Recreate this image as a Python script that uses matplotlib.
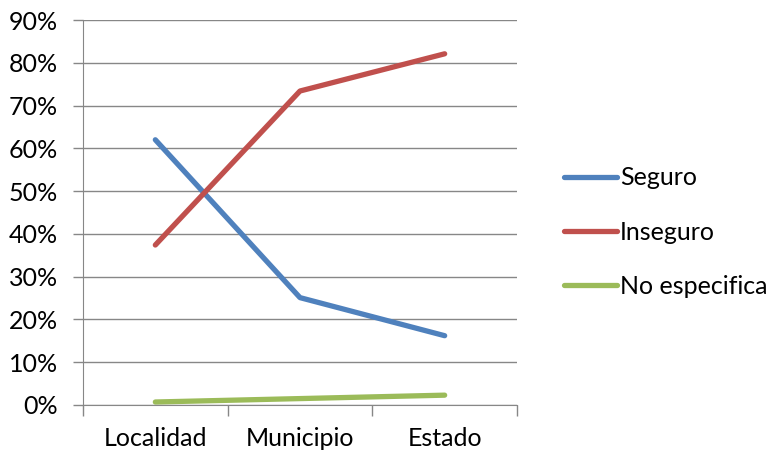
import matplotlib.pyplot as plt
import numpy as np

plt.rcParams['font.family'] = ['Lato', 'DejaVu Sans']

categorias = ["Localidad", "Municipio", "Estado"]
seguro = [62.0, 25.1, 16.2]
inseguro = [37.4, 73.4, 82.1]
no_especifica = [0.7, 1.5, 2.3]

series = [
    ("Seguro", seguro, "#4F81BD"),
    ("Inseguro", inseguro, "#C0504D"),
    ("No especifica", no_especifica, "#9BBB59"),
]

fig = plt.figure(figsize=(7.67, 4.53), dpi=100)
ax = fig.add_axes([83 / 767, 1 - 405 / 453, (517 - 83) / 767, (405 - 20) / 453])

x = np.arange(len(categorias))
for nombre, vals, color in series:
    ax.plot(x, vals, color=color, lw=3.8, solid_capstyle="round", label=nombre)

gris = "#878787"
ax.set_xlim(-0.5, len(categorias) - 0.5)
ax.set_ylim(0, 90)
ax.set_yticks(np.arange(0, 91, 10))
ax.set_yticklabels([f"{v}%" for v in range(0, 91, 10)])
ax.yaxis.grid(True, color=gris, lw=1)
ax.set_axisbelow(True)

ax.set_xticks(x)
ax.set_xticklabels(categorias)
ax.set_xticks(np.arange(-0.5, len(categorias), 1), minor=True)
ax.tick_params(axis="x", which="major", length=0, pad=16, labelsize=18)
ax.tick_params(axis="x", which="minor", length=8, color=gris, width=1)
ax.tick_params(axis="y", length=7, color=gris, width=1, labelsize=18, pad=11)

for lado in ("top", "right"):
    ax.spines[lado].set_visible(False)
for lado in ("left", "bottom"):
    ax.spines[lado].set_color(gris)

fig.legend(loc="center left", bbox_to_anchor=(541 / 767, 1 - 232 / 453),
           frameon=False, fontsize=18, handlelength=2.15, handletextpad=0.1,
           labelspacing=1.25)

fig.savefig("out.png", dpi=100)
